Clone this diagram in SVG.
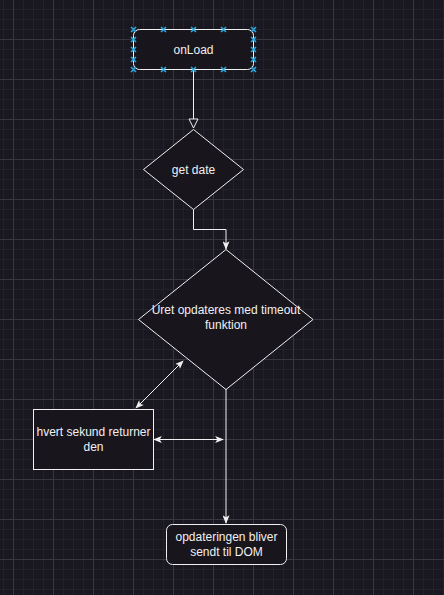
<svg xmlns="http://www.w3.org/2000/svg" width="444" height="595" viewBox="0 0 444 595">
<defs>
<pattern id="grid" x="13" y="-1" width="40" height="40" patternUnits="userSpaceOnUse">
<rect width="40" height="40" fill="#191720"/>
<g fill="#232129">
<rect x="10" y="0" width="1" height="40"/>
<rect x="20" y="0" width="1" height="40"/>
<rect x="30" y="0" width="1" height="40"/>
<rect x="0" y="10" width="40" height="1"/>
<rect x="0" y="20" width="40" height="1"/>
<rect x="0" y="30" width="40" height="1"/>
</g>
<g fill="#38363f">
<rect x="0" y="0" width="1" height="40"/>
<rect x="0" y="0" width="40" height="1"/>
</g>
</pattern>
<marker id="arrow" viewBox="0 0 10 8" refX="9" refY="4" markerWidth="9" markerHeight="7" orient="auto-start-reverse" markerUnits="userSpaceOnUse">
<path d="M0,0 L10,4 L0,8 L2.5,4 z" fill="#f0f0f0"/>
</marker>
<marker id="open" viewBox="0 0 11 11" refX="10" refY="5.5" markerWidth="11" markerHeight="11" orient="auto" markerUnits="userSpaceOnUse">
<path d="M1,1 L10,5.5 L1,10 z" fill="#191720" stroke="#f0f0f0" stroke-width="1"/>
</marker>
</defs>
<style>
.shape{fill:#18151d;stroke:#f0f0f0;stroke-width:1}
.lbl{font-family:"Liberation Sans",Arial,sans-serif;font-size:12px;fill:#f0f0f0;text-anchor:middle}
.edge{fill:none;stroke:#f0f0f0;stroke-width:1}
.h{fill:none;stroke:#29a8e0;stroke-width:1.6}
</style>
<rect width="444" height="595" fill="url(#grid)"/>

<g id="connectors">
<path class="edge" d="M193.5,69.5 V128" marker-end="url(#open)"/>
<path class="edge" d="M193.5,209 V229.5 H226 V249" marker-end="url(#arrow)"/>
<path class="edge" d="M226,389 V523" marker-end="url(#arrow)"/>
<path class="edge" d="M136,408 L183,361" marker-start="url(#arrow)" marker-end="url(#arrow)"/>
<path class="edge" d="M154,439.5 H223" marker-start="url(#arrow)" marker-end="url(#arrow)"/>
</g>

<g id="onLoad">
<rect class="shape" x="133.5" y="29.5" width="120" height="40" rx="6"/>
<text class="lbl" x="193.5" y="53.5">onLoad</text>
<g class="h">
<path d="M131,27l5,5m0,-5l-5,5M161,27l5,5m0,-5l-5,5M191,27l5,5m0,-5l-5,5M221,27l5,5m0,-5l-5,5M251,27l5,5m0,-5l-5,5"/>
<path d="M131,67l5,5m0,-5l-5,5M161,67l5,5m0,-5l-5,5M191,67l5,5m0,-5l-5,5M221,67l5,5m0,-5l-5,5M251,67l5,5m0,-5l-5,5"/>
<path d="M131,37l5,5m0,-5l-5,5M131,47l5,5m0,-5l-5,5M131,57l5,5m0,-5l-5,5"/>
<path d="M251,37l5,5m0,-5l-5,5M251,47l5,5m0,-5l-5,5M251,57l5,5m0,-5l-5,5"/>
</g>
</g>

<g id="getDate">
<path class="shape" d="M193.5,129.5 L243.5,169.5 L193.5,209.5 L143.5,169.5 Z"/>
<text class="lbl" x="193.5" y="173.5">get date</text>
</g>

<g id="uret">
<path class="shape" d="M226,249.5 L313,319.5 L226,389.5 L138.5,319.5 Z"/>
<text class="lbl" x="226" y="314">Uret opdateres med timeout</text>
<text class="lbl" x="226" y="329">funktion</text>
</g>

<g id="hvert">
<rect class="shape" x="33.5" y="409.5" width="120" height="60"/>
<text class="lbl" x="93.5" y="435.5">hvert sekund returner</text>
<text class="lbl" x="93.5" y="451">den</text>
</g>

<g id="dom">
<rect class="shape" x="166.5" y="524.5" width="120" height="40" rx="6"/>
<text class="lbl" x="226.5" y="540.5">opdateringen bliver</text>
<text class="lbl" x="226.5" y="555.5">sendt til DOM</text>
</g>
</svg>
